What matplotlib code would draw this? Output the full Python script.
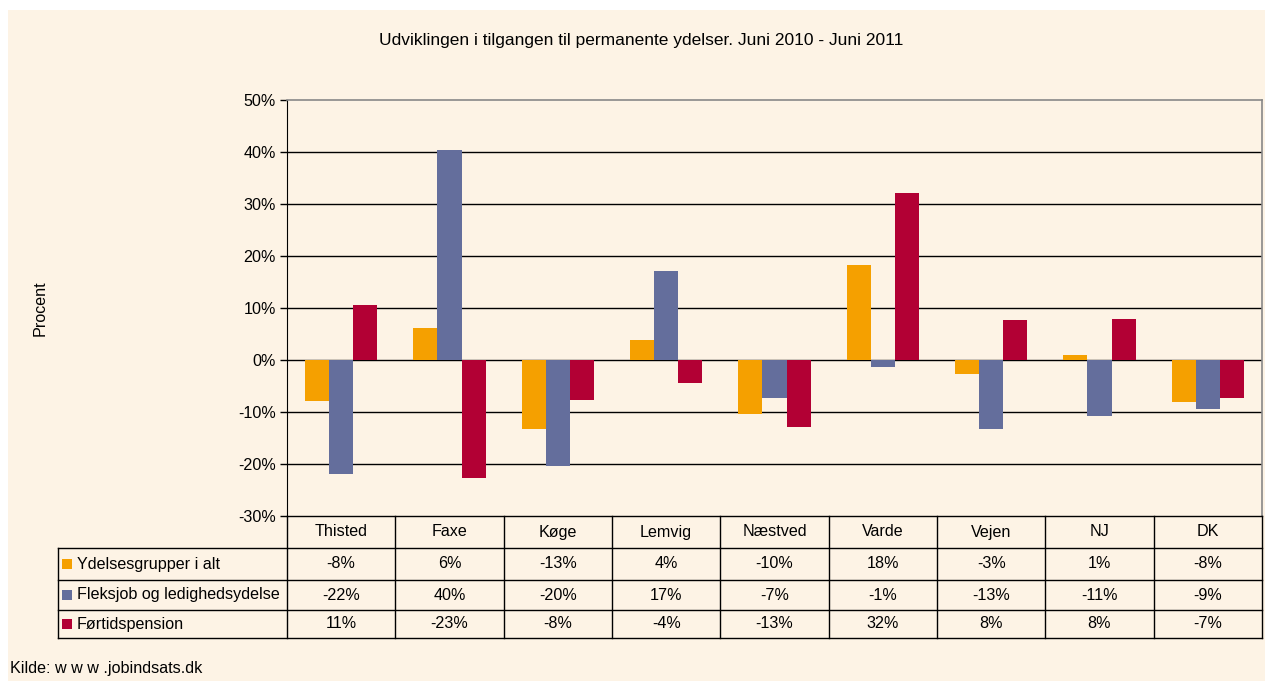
import matplotlib.pyplot as plt
from matplotlib.patches import Rectangle
from matplotlib.transforms import blended_transform_factory
import numpy as np

plt.rcParams['font.family'] = ['Liberation Sans', 'DejaVu Sans']

kommuner = ['Thisted', 'Faxe', 'Køge', 'Lemvig', 'Næstved', 'Varde', 'Vejen', 'NJ', 'DK']
serier = ['Ydelsesgrupper i alt', 'Fleksjob og ledighedsydelse', 'Førtidspension']
ydelser_i_alt = [-7.9, 6.2, -13.3, 3.8, -10.4, 18.3, -2.7, 1.0, -8.1]
fleksjob = [-21.9, 40.4, -20.4, 17.1, -7.4, -1.3, -13.3, -10.8, -9.4]
foertid = [10.6, -22.6, -7.7, -4.4, -12.9, 32.1, 7.6, 7.9, -7.4]
farver = ['#F5A000', '#646E9C', '#B20034']
yticks = [-30, -20, -10, 0, 10, 20, 30, 40, 50]

bg = '#FDF3E5'
fs = 11.6
W, H = 1265, 681
def fx(px):
    return px / W
def fy(py):
    return 1 - py / H

fig = plt.figure(figsize=(12.65, 6.81), dpi=100)
fig.patch.set_facecolor('white')
fig.patches.append(Rectangle((fx(8), 0), 1 - fx(8), fy(10), transform=fig.transFigure,
                             facecolor=bg, edgecolor='none', zorder=-10))

ax = fig.add_axes([fx(287), fy(516), fx(1262) - fx(287), fy(100) - fy(516)])
ax.set_facecolor(bg)

x = np.arange(len(kommuner))
w = 1 / 4.5
for i, (vals, c) in enumerate(zip([ydelser_i_alt, fleksjob, foertid], farver)):
    ax.bar(x + (i - 1) * w, vals, w, color=c, zorder=3)

ax.set_xlim(-0.5, len(kommuner) - 0.5)
ax.set_ylim(-30, 50)
ax.set_yticks(yticks)
ax.set_yticklabels([f'{t}%' for t in yticks], fontsize=fs)
ax.set_xticks([])
for t in yticks[1:-1]:
    ax.axhline(t, color='black', lw=1, zorder=1)
ax.tick_params(axis='y', length=5, width=1, pad=3)
ax.spines['left'].set_color('black')
ax.spines['top'].set_color('#888888')
ax.spines['right'].set_color('#888888')
ax.spines['bottom'].set_visible(False)
ax.spines['top'].set_linewidth(1.2)
ax.spines['right'].set_linewidth(1.2)

fig.text(fx(641), fy(41), 'Udviklingen i tilgangen til permanente ydelser. Juni 2010 - Juni 2011',
         ha='center', va='center', fontsize=12.5)
fig.text(fx(40), fy(308), 'Procent', rotation=90, ha='center', va='center', fontsize=fs)
fig.text(fx(10), fy(669), 'Kilde: w w w .jobindsats.dk', ha='left', va='center', fontsize=fs)

# datatabel under grafen
tr = blended_transform_factory(ax.transData, fig.transFigure)
rows = [516, 548, 580, 610, 638]
lk = dict(color='black', lw=1, clip_on=False, zorder=5)
ax.plot([-0.5, len(kommuner) - 0.5], [fy(516)] * 2, transform=tr, **lk)
for py in rows[1:]:
    fig.add_artist(plt.Line2D([fx(58), fx(1262)], [fy(py)] * 2, transform=fig.transFigure, **lk))
for b in np.arange(len(kommuner) + 1) - 0.5:
    ax.plot([b, b], [fy(516), fy(638)], transform=tr, **lk)
fig.add_artist(plt.Line2D([fx(58)] * 2, [fy(548), fy(638)], transform=fig.transFigure, **lk))

for j, k in enumerate(kommuner):
    ax.text(j, fy(532), k, transform=tr, ha='center', va='center', fontsize=fs)

for r, (navn, vals, c) in enumerate(zip(serier, [ydelser_i_alt, fleksjob, foertid], farver)):
    yc = (fy(rows[r + 1]) + fy(rows[r + 2])) / 2
    fig.patches.append(Rectangle((fx(62), yc - 5 / H), 10 / W, 10 / H, transform=fig.transFigure,
                                 facecolor=c, edgecolor='none', zorder=5))
    fig.text(fx(77), yc, navn, ha='left', va='center', fontsize=fs)
    for j, v in enumerate(vals):
        ax.text(j, yc, f'{int(np.floor(v + 0.5))}%', transform=tr, ha='center', va='center', fontsize=fs)

fig.savefig('out.png', dpi=100, facecolor=fig.get_facecolor())
